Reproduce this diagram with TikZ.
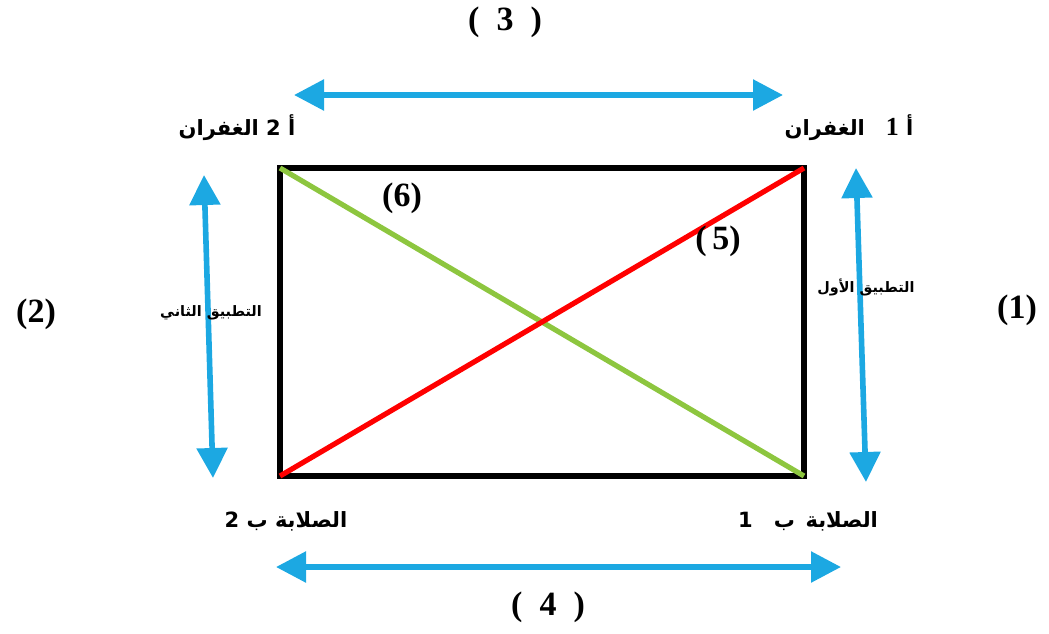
\documentclass[tikz,border=0pt]{standalone}
\usepackage{fontspec}
\setmainfont{Liberation Serif}
\newfontfamily\arabicfont[Script=Arabic]{DejaVu Sans}
\TeXXeTstate=1
\usepackage{xcolor}
\usetikzlibrary{arrows.meta}
\definecolor{skyb}{RGB}{28,168,226}
\definecolor{leaf}{RGB}{141,198,63}
\tikzset{
  bd/.style={line width=3pt,black,line join=miter},
  dg/.style={line width=2.6pt},
  ar/.style={line width=2.8pt,skyb,{Triangle[length=15pt,width=15pt]}-{Triangle[length=15pt,width=15pt]}},
  num/.style={font=\bfseries\fontsize{17}{19}\selectfont,inner sep=0pt},
  lb/.style={font=\arabicfont\bfseries\fontsize{10.5}{12}\selectfont,inner sep=0pt},
  sm/.style={font=\arabicfont\bfseries\fontsize{7.2}{9}\selectfont,inner sep=0pt}
}
\newcommand{\artxt}[1]{\beginR #1\endR}
\begin{document}
\begin{tikzpicture}[x=0.5pt,y=-0.5pt]
\useasboundingbox (0,0) rectangle (1049,633);
\coordinate (tl) at (280,168); \coordinate (tr) at (804,168);
\coordinate (bl) at (280,476); \coordinate (br) at (804,476);
\draw[bd] (tl) rectangle (br);
\draw[dg,leaf] (tl) -- (br);
\draw[dg,red] (bl) -- (tr);
% double arrows round the frame
\coordinate (t1) at (294,95); \coordinate (t2) at (783,95);
\coordinate (l1) at (204,175); \coordinate (l2) at (213,478);
\coordinate (r1) at (856,168); \coordinate (r2) at (866,482);
\coordinate (b1) at (276,567); \coordinate (b2) at (841,567);
\draw[ar] (t1) -- (t2); \draw[ar] (l1) -- (l2);
\draw[ar] (r1) -- (r2); \draw[ar] (b1) -- (b2);
\node[num] (n3) at (505,22) {(\enspace 3\enspace)};
\node[num] (n2) at (36,314) {(2)};
\node[num] (n1) at (1017,310) {(1)};
\node[num] (n4) at (548,607) {(\enspace 4\enspace)};
\node[num] (n6) at (402,198) {(6)};
\node[num] (n5) at (718,241) {(\,5)};
\node[lb] (ghB) at (237,128) {\artxt{أ 2 الغفران}};
\node[lb] (ghA) at (849,128) {\artxt{أ {\rmfamily\fontsize{13}{14}\selectfont 1}\quad الغفران}};
\node[sm] (tB) at (211,313) {\artxt{التطبيق الثاني}};
\node[sm] (tA) at (866,287) {\artxt{التطبيق الأول}};
\node[lb] (slB) at (286,521) {\artxt{الصلابة ب 2}};
\node[lb] (slA) at (808,521) {\artxt{الصلابة\enspace ب\enspace\, 1}};
\end{tikzpicture}
\end{document}
